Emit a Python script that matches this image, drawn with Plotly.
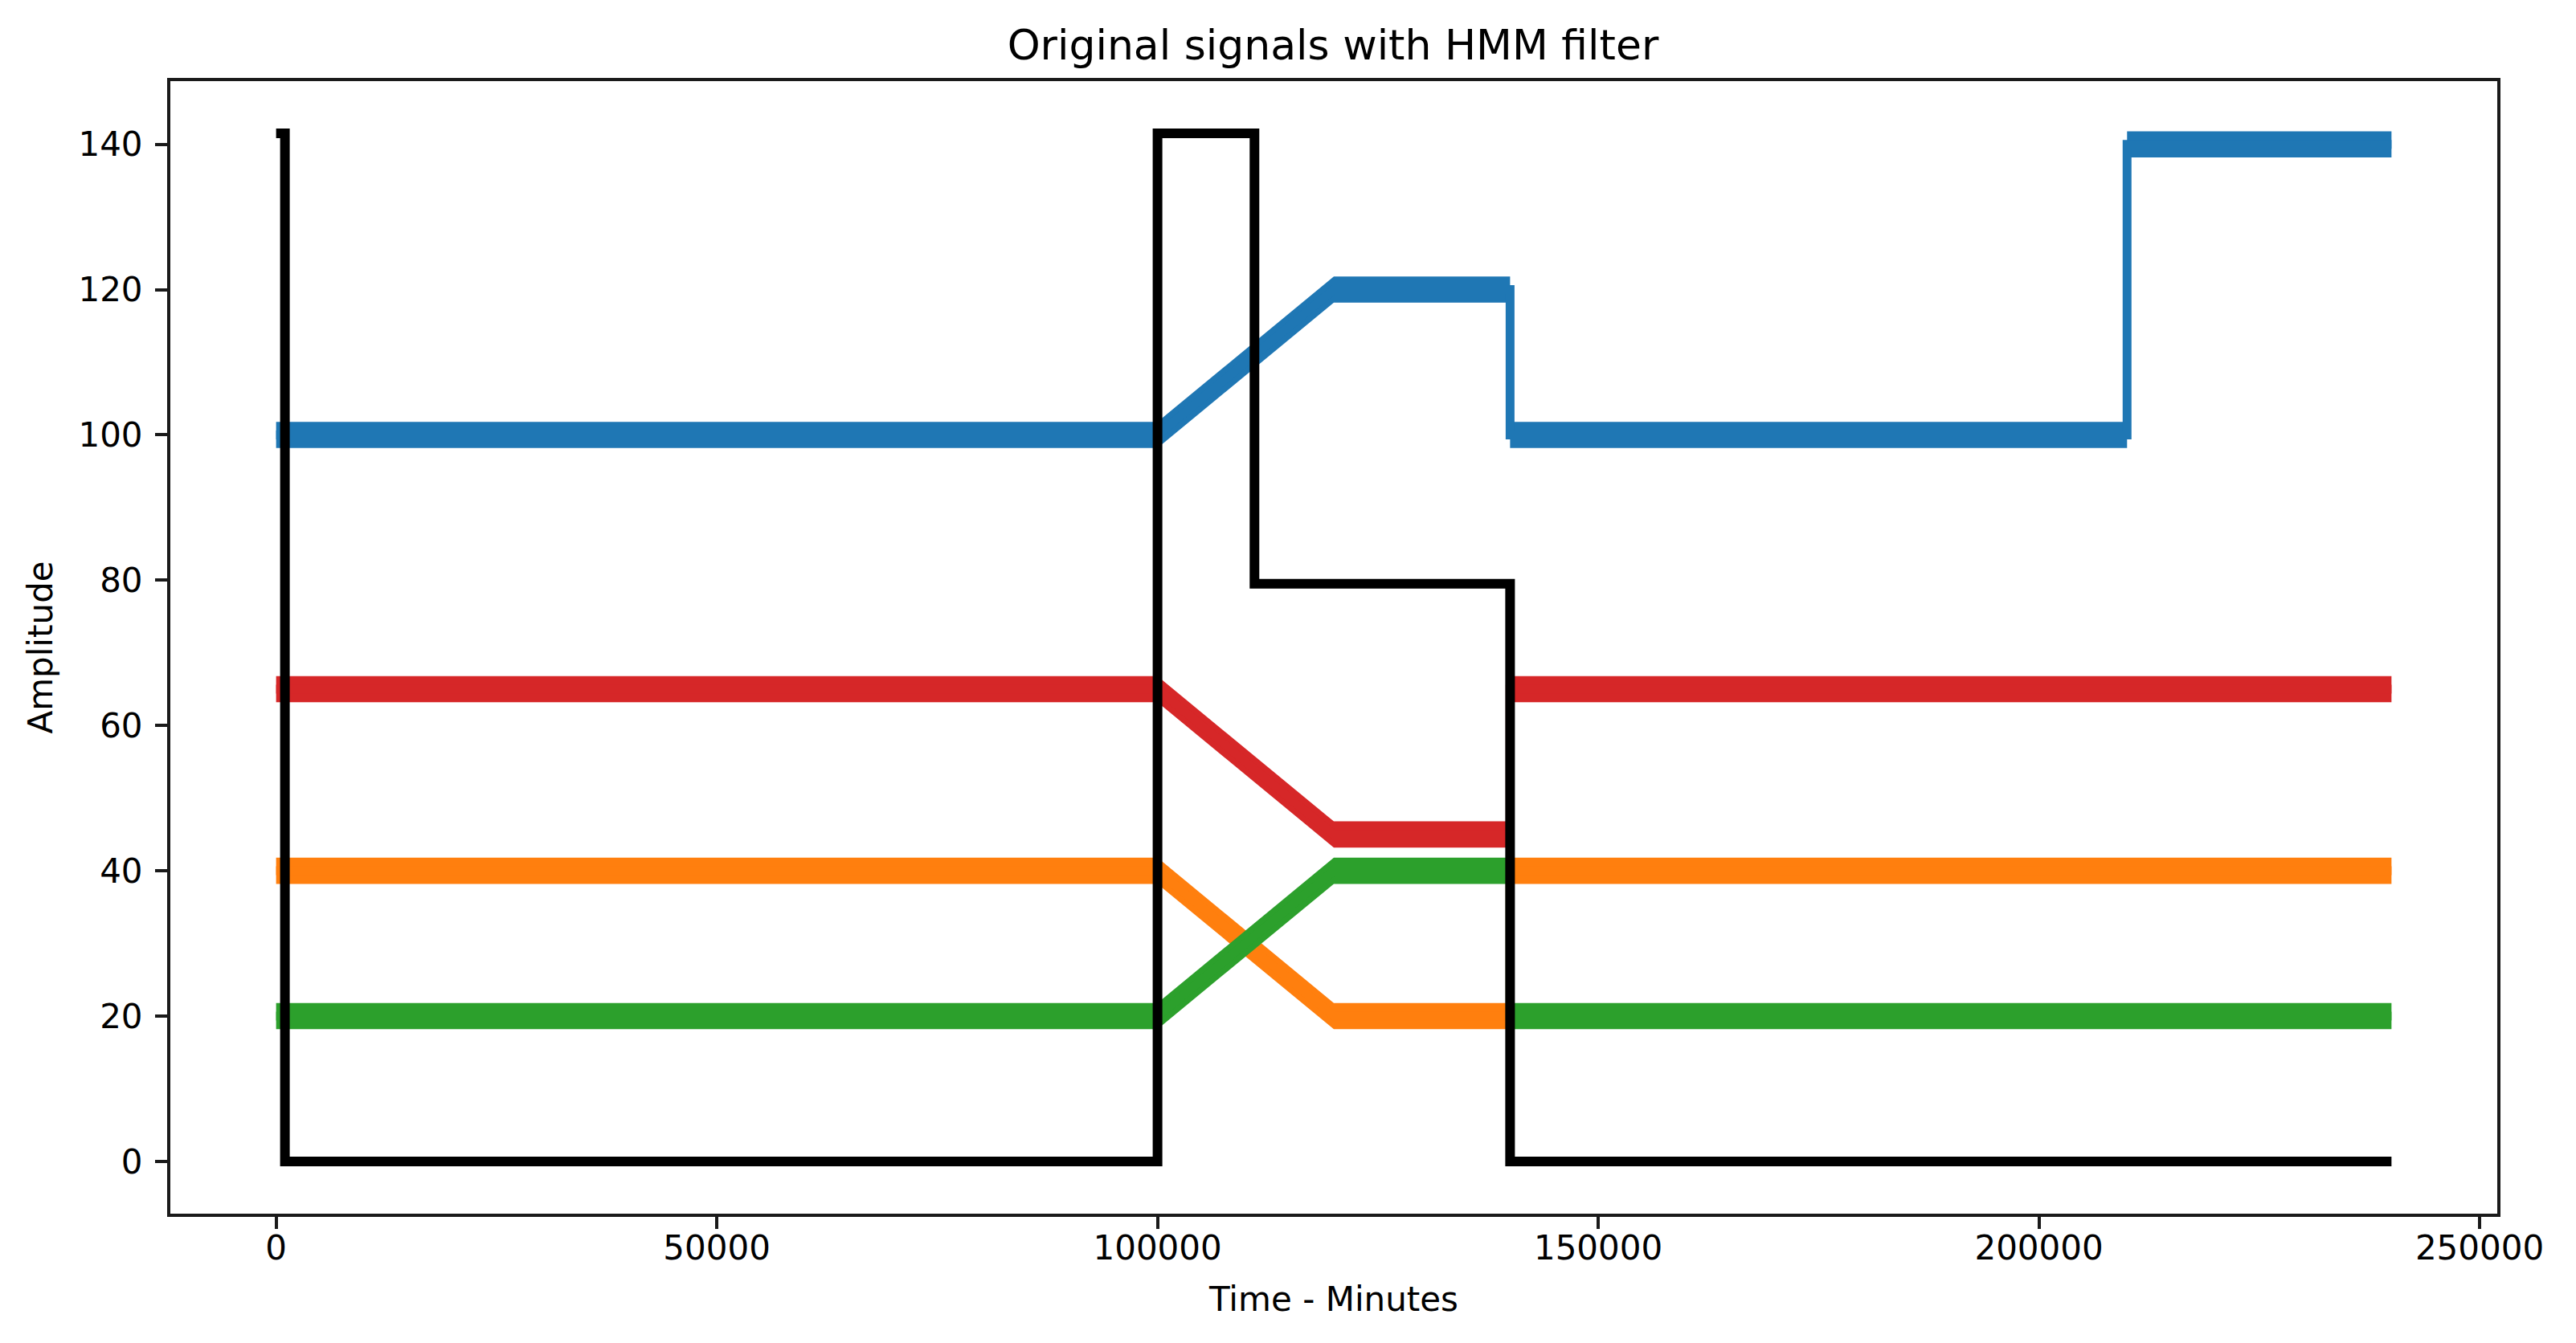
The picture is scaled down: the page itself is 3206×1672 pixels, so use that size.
import plotly.graph_objects as go

# ---- data ----
blue_x = [0, 100000, 120000, 140000, 140000, 210000, 210000, 240000]
blue_y = [100, 100, 120, 120, 100, 100, 140, 140]

orange_x = [0, 100000, 120000, 140000, 140000, 240000]
orange_y = [40, 40, 20, 20, 40, 40]

green_x = [0, 100000, 120000, 140000, 140000, 240000]
green_y = [20, 20, 40, 40, 20, 20]

red_x = [0, 100000, 120000, 140000, 140000, 240000]
red_y = [65, 65, 45, 45, 65, 65]

hmm_x = [0, 1000, 1000, 100000, 100000, 111000, 111000, 140000, 140000, 240000]
hmm_y = [141.5, 141.5, 0, 0, 141.5, 141.5, 79.5, 79.5, 0, 0]

x_ticks = [0, 50000, 100000, 150000, 200000, 250000]
y_ticks = [0, 20, 40, 60, 80, 100, 120, 140]

# ---- style ----
NOISE_HALF = 1.8  # half-thickness of the noisy band, in amplitude units
signals = [
    (blue_x, blue_y, "#1f77b4"),
    (orange_x, orange_y, "#ff7f0e"),
    (green_x, green_y, "#2ca02c"),
    (red_x, red_y, "#d62728"),
]
FONT = "DejaVu Sans"
AXCOL = "#1a1a1a"

fig = go.Figure()
for xs, ys, col in signals:
    lower = [v - NOISE_HALF for v in ys]
    upper = [v + NOISE_HALF for v in ys]
    fig.add_trace(go.Scatter(x=xs, y=lower, mode="lines", line=dict(width=0, color=col),
                             showlegend=False, hoverinfo="skip"))
    fig.add_trace(go.Scatter(x=xs, y=upper, mode="lines", line=dict(width=0, color=col),
                             fill="tonexty", fillcolor=col, showlegend=False, hoverinfo="skip"))
    fig.add_trace(go.Scatter(x=xs, y=ys, mode="lines", line=dict(width=11, color=col),
                             showlegend=False))

fig.add_trace(go.Scatter(x=hmm_x, y=hmm_y, mode="lines", line=dict(width=12, color="black"),
                         showlegend=False))

# page body has an 8px margin, so the figure is sized/offset to compensate
fig.update_layout(
    width=3190, height=1656,
    margin=dict(l=204, r=90, t=93, b=153),
    paper_bgcolor="white", plot_bgcolor="white",
    font=dict(family=FONT, size=42, color="black"),
    title=dict(text="Original signals with HMM filter", x=(1659 - 8) / 3190, xanchor="center",
               y=1 - 48 / 1656, yanchor="middle", yref="container",
               font=dict(family=FONT, size=52, color="black")),
    showlegend=False,
)
fig.update_xaxes(
    range=[-12000, 252000], tickvals=x_ticks, ticktext=[str(v) for v in x_ticks],
    showgrid=False, zeroline=False, showline=True, mirror=True, linecolor=AXCOL, linewidth=4,
    ticks="outside", ticklen=15, tickwidth=4, tickcolor=AXCOL, ticklabelstandoff=-12,
    tickfont=dict(family=FONT, size=42, color="black"),
    title=dict(text="Time - Minutes", font=dict(family=FONT, size=42, color="black"), standoff=26),
)
fig.update_yaxes(
    range=[-7.2, 148.7], tickvals=y_ticks, ticktext=[str(v) for v in y_ticks],
    showgrid=False, zeroline=False, showline=True, mirror=True, linecolor=AXCOL, linewidth=4,
    ticks="outside", ticklen=15, tickwidth=4, tickcolor=AXCOL, ticklabelstandoff=7,
    tickfont=dict(family=FONT, size=42, color="black"),
    title=dict(text="Amplitude", font=dict(family=FONT, size=42, color="black"), standoff=20),
)

fig.write_html("out.html")
